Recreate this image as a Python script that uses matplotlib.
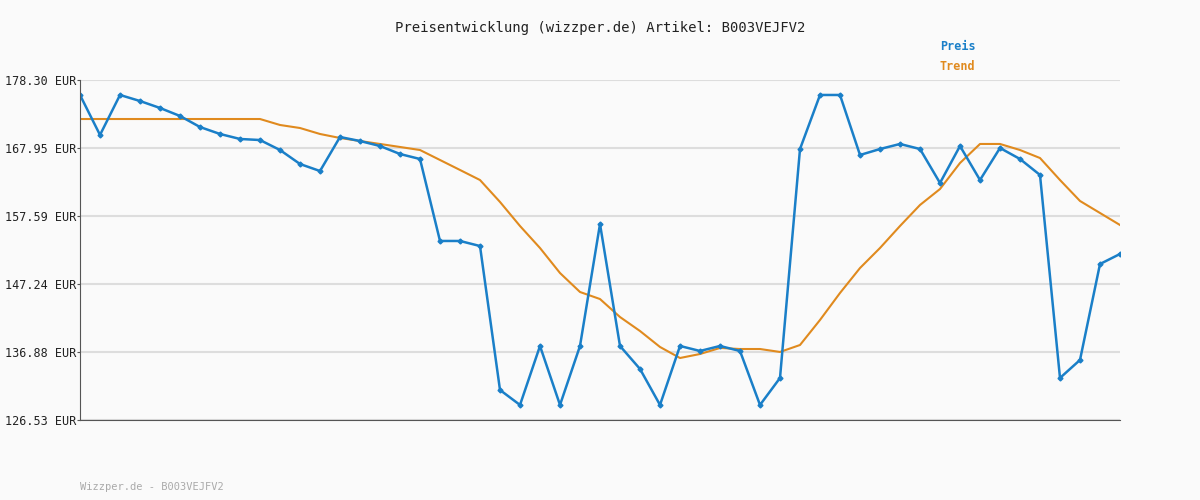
import matplotlib
matplotlib.use("Agg")
import matplotlib.pyplot as plt

preis = [176.02,169.93,176.02,175.10,174.04,172.82,171.14,170.08,169.32,169.16,167.64,165.51,164.44,
         169.62,169.01,168.25,167.03,166.27,153.79,153.79,153.02,131.10,128.82,137.80,128.82,137.80,
         156.37,137.80,134.30,128.82,137.80,137.04,137.80,137.04,128.82,132.93,167.79,176.02,176.02,
         166.88,167.79,168.56,167.79,162.62,168.25,163.07,167.95,166.27,163.84,132.93,135.67,150.28,151.81]
trend = [172.36]*10 + [171.45,170.99,170.08,169.47,169.01,168.56,168.10,167.64,166.12,164.60,163.07,
         159.73,156.07,152.72,148.91,146.02,144.95,142.21,140.08,137.65,135.97,136.58,137.50,137.34,
         137.34,136.89,137.95,141.76,145.87,149.67,152.72,156.07,159.27,161.70,165.66,168.56,168.56,
         167.64,166.42,163.07,159.88,158.05,156.22]
yticks = [126.53,136.88,147.24,157.59,167.95,178.30]

fig = plt.figure(figsize=(12,5), dpi=100, facecolor="#fafafa")
ax = fig.add_axes([80/1200, 80/500, 1040/1200, 340/500])
ax.set_facecolor("#fafafa")
x = list(range(len(preis)))
ax.plot(x, trend, color="#e08a1e", lw=1.5)
ax.plot(x, preis, color="#1a7fc8", lw=1.8, marker="D", ms=2.5)
ax.set_xlim(0, len(preis)-1)
ax.set_ylim(126.53, 178.30)
ax.set_yticks(yticks)
ax.set_yticklabels([f"{v:.2f} EUR" for v in yticks], family="DejaVu Sans Mono", fontsize=8.5, color="#222222")
ax.set_xticks([])
ax.grid(axis="y", color="#dddddd", lw=1.5)
for s in ["top","right"]:
    ax.spines[s].set_visible(False)
ax.spines["left"].set_color("#555555")
ax.spines["bottom"].set_color("#555555")
ax.tick_params(axis="y", length=2, pad=1, color="#555555")
fig.text(0.5, 1-28/500, "Preisentwicklung (wizzper.de) Artikel: B003VEJFV2", ha="center", va="center",
         family="DejaVu Sans Mono", fontsize=10, color="#222222")
fig.text(940/1200, 1-47/500, "Preis", color="#1a7fc8", family="DejaVu Sans Mono", fontsize=8.5, weight="bold", va="center")
fig.text(940/1200, 1-67/500, "Trend", color="#e08a1e", family="DejaVu Sans Mono", fontsize=8.5, weight="bold", va="center")
fig.text(80/1200, 1-487/500, "Wizzper.de - B003VEJFV2", color="#aaaaaa", family="DejaVu Sans Mono", fontsize=7.5, va="center")
fig.savefig("out.png", dpi=100, facecolor=fig.get_facecolor())
